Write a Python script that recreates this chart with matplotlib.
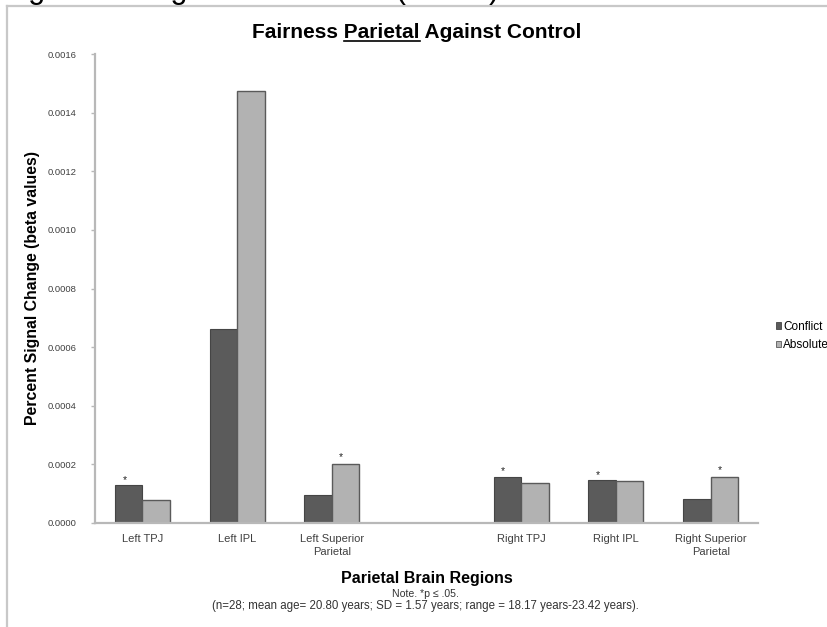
import numpy as np
import matplotlib
matplotlib.use("Agg")
import matplotlib.pyplot as plt
from matplotlib.patches import Patch
from matplotlib.lines import Line2D

plt.rcParams['font.family'] = ['Liberation Sans', 'DejaVu Sans']

# parietal ROI means, beta values
regions = ["Left TPJ", "Left IPL", "Left Superior\nParietal",
           "Right TPJ", "Right IPL", "Right Superior\nParietal"]
conflict = [0.000129, 0.000662, 0.000095, 0.000157, 0.000146, 0.000083]
absolute = [0.000078, 0.001474, 0.000201, 0.000136, 0.000142, 0.000156]
conflict_sig = [True, False, False, True, True, False]
absolute_sig = [False, False, True, False, False, True]
yticks = [0.0000, 0.0002, 0.0004, 0.0006, 0.0008, 0.0010, 0.0012, 0.0014, 0.0016]

W, H = 828, 627
DARK = '#5b5b5b'
LIGHT = '#b2b2b2'
AXIS = '#b8b8b8'


def fx(px):
    return px / W


def fy(py):
    return 1 - py / H


fig = plt.figure(figsize=(W / 100, H / 100), dpi=100)
fig.patch.set_facecolor('white')

# page frame + the clipped caption above it
fig.add_artist(Line2D([fx(7.5), 1], [fy(6), fy(6)], color='#c8c8c8', lw=1.6))
fig.add_artist(Line2D([fx(7.5), fx(7.5)], [fy(6), 0], color='#c8c8c8', lw=1.6))
fig.text(fx(3), fy(-2.5), "Figure 4. Regions of Interest (BOLD)", fontsize=22,
         ha='left', va='baseline', color='black')

ax = fig.add_axes([fx(95), fy(523), fx(758) - fx(95), fy(54) - fy(523)])

# left hemisphere, a blank slot, then right hemisphere
x = np.arange(len(regions), dtype=float)
x[3:] += 1
bw = 0.29

ax.bar(x - bw / 2, conflict, bw, color=DARK, edgecolor='#454545', lw=0.8, label='Conflict')
ax.bar(x + bw / 2, absolute, bw, color=LIGHT, edgecolor='#5a5a5a', lw=1.0, label='Absolute')

# significance stars
for i in range(len(regions)):
    if conflict_sig[i]:
        ax.annotate('*', (x[i] - bw / 2, conflict[i]), xytext=(-3, 4),
                    textcoords='offset points', ha='center', va='center',
                    fontsize=7.5, color='#222222')
    if absolute_sig[i]:
        ax.annotate('*', (x[i] + bw / 2, absolute[i]), xytext=(-3, 5),
                    textcoords='offset points', ha='center', va='center',
                    fontsize=7.5, color='#222222')

ax.set_xlim(-0.5, 6.5)
ax.set_ylim(0, 0.0016)
ax.set_yticks(yticks)
ax.set_yticklabels(['%.4f' % v for v in yticks])
ax.set_xticks(x)
ax.set_xticklabels(regions, linespacing=1.3)

for s in ['top', 'right']:
    ax.spines[s].set_visible(False)
for s in ['left', 'bottom']:
    ax.spines[s].set_color(AXIS)
    ax.spines[s].set_linewidth(1.6)

ax.tick_params(axis='y', length=3, width=1, color=AXIS, pad=10,
               labelsize=6.8, labelcolor='#404040')
ax.tick_params(axis='x', length=0, pad=8, labelsize=8, labelcolor='#404040')

fig.text(fx(33), fy(288), "Percent Signal Change (beta values)", rotation=90,
         fontsize=11.4, fontweight='bold', ha='center', va='center')
fig.text(fx(427), fy(578), "Parietal Brain Regions", fontsize=11.5,
         fontweight='bold', ha='center', va='center')
fig.text(fx(425), fy(594), "Note. *p \u2264 .05.", fontsize=7.6,
         ha='center', va='center', color='#333333')
fig.text(fx(425), fy(606),
         "(n=28; mean age= 20.80 years; SD = 1.57 years; range = 18.17 years-23.42 years).",
         fontsize=8.3, ha='center', va='center', color='#333333')

handles = [Patch(facecolor=DARK, edgecolor='#454545', lw=0.6),
           Patch(facecolor=LIGHT, edgecolor='#5a5a5a', lw=0.6)]
fig.legend(handles, ['Conflict', 'Absolute'], loc='center left',
           bbox_to_anchor=(fx(776), fy(336)), frameon=False, fontsize=8.5,
           handlelength=0.45, handleheight=0.45, handletextpad=0.15,
           labelspacing=0.55, borderaxespad=0, borderpad=0)

# title with "Parietal" underlined
title_kw = dict(fontsize=15, fontweight='bold', va='center')
fig.canvas.draw()
r = fig.canvas.get_renderer()
t_full = fig.text(fx(417), fy(32), "Fairness Parietal Against Control", ha='center', **title_kw)
bb_full = t_full.get_window_extent(r)
t_a = fig.text(0, 0, "Fairness Parietal", ha='left', **title_kw)
t_b = fig.text(0, 0, "Parietal", ha='left', **title_kw)
w_a = t_a.get_window_extent(r).width
w_b = t_b.get_window_extent(r).width
t_a.remove()
t_b.remove()
x1 = bb_full.x0 + w_a
x0 = x1 - w_b
uy = bb_full.y0 + 1
fig.add_artist(Line2D([x0 / W, x1 / W], [uy / H, uy / H], color='black', lw=1.2))

fig.savefig('out.png', dpi=100, facecolor='white')
